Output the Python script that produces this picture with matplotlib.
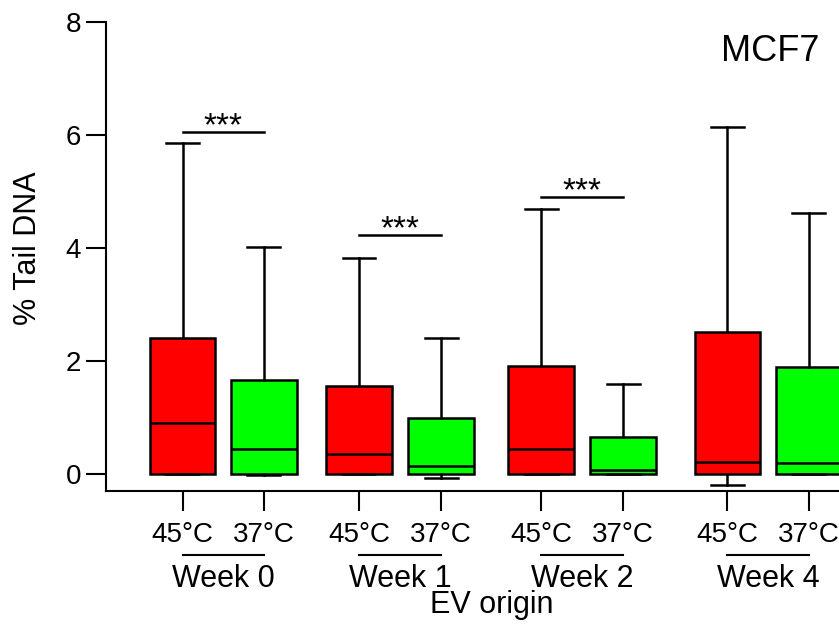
import numpy as np
import matplotlib.pyplot as plt
from matplotlib.transforms import blended_transform_factory

plt.rcParams['font.family'] = ['Liberation Sans', 'DejaVu Sans']

weeks = ['Week 0', 'Week 1', 'Week 2', 'Week 4']
temps = ['45°C', '37°C']
positions = [1, 1.99, 3.15, 4.15, 5.37, 6.37, 7.64, 8.63]
colors = ['#ff0000', '#00ff00'] * 4

q1 = [0, 0, 0, 0, 0, 0, 0, 0]
med = [0.90, 0.45, 0.35, 0.15, 0.45, 0.07, 0.22, 0.19]
q3 = [2.41, 1.66, 1.56, 0.99, 1.91, 0.66, 2.51, 1.89]
whislo = [0, -0.01, 0, -0.07, 0, 0, -0.20, 0]
whishi = [5.86, 4.02, 3.83, 2.40, 4.70, 1.60, 6.14, 4.62]

sig_y = [6.05, 4.23, 4.90]
sig_label = '***'

fig = plt.figure(figsize=(8.39, 6.3), dpi=100)
ax = fig.add_axes([0.1263, 0.2206, 0.8737, 0.7444])

stats = []
for i in range(len(positions)):
    stats.append(dict(med=med[i], q1=q1[i], q3=q3[i],
                      whislo=whislo[i], whishi=whishi[i], fliers=[]))

bp = ax.bxp(stats, positions=positions, widths=0.8, patch_artist=True,
            showfliers=False, capwidths=0.4,
            boxprops=dict(linewidth=1.8, edgecolor='black'),
            medianprops=dict(color='black', linewidth=1.8),
            whiskerprops=dict(color='black', linewidth=1.8),
            capprops=dict(color='black', linewidth=1.8))
for patch, c in zip(bp['boxes'], colors):
    patch.set_facecolor(c)

ax.set_xlim(0.065, 9.0)
ax.set_ylim(-0.3, 8)
ax.set_yticks([0, 2, 4, 6, 8])
ax.set_xticks(positions)
ax.set_xticklabels(temps * 4)
ax.tick_params(axis='both', length=14.4, width=1.5, labelsize=20)
ax.tick_params(axis='x', pad=8)
for s in ['top', 'right']:
    ax.spines[s].set_visible(False)
for s in ['left', 'bottom']:
    ax.spines[s].set_linewidth(1.5)

# significance bars
for k in range(3):
    x0 = positions[2 * k]
    x1 = positions[2 * k + 1]
    ax.plot([x0, x1], [sig_y[k], sig_y[k]], color='black', lw=1.8)
    ax.text((x0 + x1) / 2, sig_y[k] - 0.05, sig_label, ha='center',
            va='baseline', fontsize=24)

# group labels under the axis
trans = blended_transform_factory(ax.transData, fig.transFigure)
for k, w in enumerate(weeks):
    x0 = positions[2 * k]
    x1 = positions[2 * k + 1]
    ax.plot([x0, x1], [0.119, 0.119], color='black', lw=1.5,
            transform=trans, clip_on=False)
    ax.text((x0 + x1) / 2, 0.068, w, ha='center', va='baseline',
            fontsize=22, transform=trans)

fig.text(492 / 839, 0.027, 'EV origin', ha='center', va='baseline', fontsize=22)
fig.text(0.033, 0.606, '% Tail DNA', rotation=90, ha='center', va='center',
         fontsize=22)
fig.text(0.859, 0.903, 'MCF7', ha='left', va='baseline', fontsize=26)

plt.savefig('out.png', dpi=100)
